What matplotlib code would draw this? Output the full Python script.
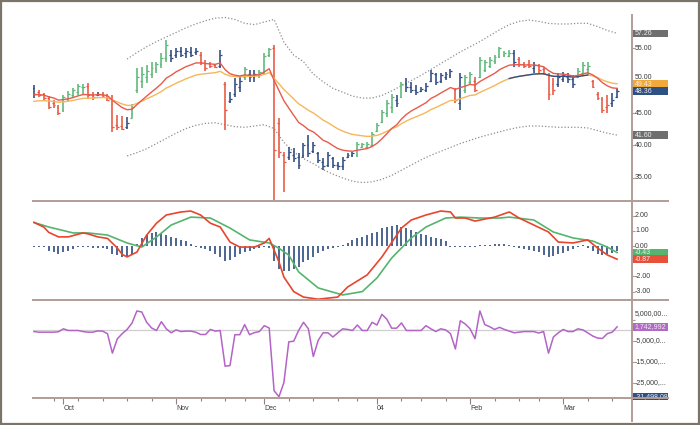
import numpy as np
import matplotlib
matplotlib.use("Agg")
import matplotlib.pyplot as plt
from matplotlib.lines import Line2D
from matplotlib.patches import Rectangle

plt.rcParams['font.family'] = ['Liberation Sans', 'DejaVu Sans']

# ---------------- data ----------------
bar_high = [49.3, 48.5, 48.1, 47.6, 47.0, 46.2, 47.8, 48.4, 48.8, 49.5,
            49.5, 49.6, 48.2, 48.2, 48.2, 48.0, 47.8, 44.7, 44.5, 44.4,
            46.4, 51.9, 52.1, 52.4, 52.8, 52.8, 54.2, 56.2, 54.7, 55.0,
            55.2, 55.0, 55.2, 55.0, 54.4, 53.2, 52.8, 52.6, 54.7, 49.8,
            48.2, 50.4, 50.5, 52.1, 51.6, 51.6, 51.6, 54.2, 55.0, 55.5,
            44.2, 39.0, 39.8, 39.6, 38.8, 40.4, 41.6, 40.5, 39.0, 38.1,
            39.0, 38.2, 37.5, 38.2, 38.8, 39.0, 40.5, 40.4, 40.5, 42.1,
            43.5, 45.5, 47.0, 47.9, 47.8, 49.8, 50.4, 49.8, 49.3, 49.0,
            49.6, 51.6, 51.2, 51.2, 51.3, 51.8, 48.8, 51.2, 50.8, 51.3,
            50.5, 53.6, 53.2, 53.6, 53.9, 55.2, 54.5, 54.7, 54.7, 53.6,
            52.8, 53.2, 52.8, 52.6, 52.1, 51.2, 50.4, 51.2, 51.3, 51.2,
            50.8, 51.9, 52.8, 52.8, 50.1, 48.2, 47.5, 47.8, 48.1, 48.8]
bar_low = [47.3, 47.5, 47.0, 45.6, 45.8, 44.7, 45.2, 46.7, 47.5, 47.8,
           47.8, 47.2, 47.0, 47.6, 47.3, 46.8, 42.1, 42.4, 42.4, 42.5,
           44.2, 48.1, 48.8, 49.6, 50.4, 51.2, 51.9, 52.8, 52.8, 53.5,
           53.6, 53.5, 53.6, 53.9, 52.4, 51.5, 51.9, 51.9, 51.9, 42.4,
           46.5, 47.5, 48.2, 50.1, 49.8, 49.8, 50.4, 50.8, 53.6, 31.0,
           38.0, 32.8, 37.8, 37.5, 36.4, 38.1, 38.2, 38.8, 37.3, 36.2,
           36.7, 36.5, 36.2, 36.2, 38.1, 38.2, 38.2, 39.6, 39.6, 39.8,
           42.1, 43.5, 44.4, 45.0, 45.9, 47.3, 48.2, 48.1, 47.8, 48.2,
           48.2, 49.8, 49.3, 49.6, 50.1, 50.4, 46.5, 45.5, 48.1, 49.3,
           48.2, 50.4, 51.3, 51.9, 52.6, 53.5, 53.6, 53.6, 52.1, 52.1,
           51.9, 51.9, 51.2, 51.2, 50.8, 47.0, 47.7, 49.0, 49.8, 49.6,
           48.9, 50.4, 50.8, 50.8, 48.8, 47.0, 45.0, 45.0, 45.9, 47.3]
bar_open = [48.9, 48.2, 47.9, 47.3, 46.5, 46.0, 45.4, 47.2, 47.8, 48.2,
            49.0, 49.2, 47.8, 47.8, 47.9, 47.7, 47.2, 43.2, 43.0, 42.8,
            44.3, 48.5, 50.0, 50.5, 51.0, 51.8, 52.5, 53.5, 54.0, 54.0,
            54.5, 54.2, 54.4, 54.4, 54.0, 52.7, 52.5, 52.4, 52.3, 49.5,
            46.8, 48.0, 49.0, 50.5, 51.0, 50.5, 50.8, 51.2, 54.0, 55.0,
            43.5, 38.5, 38.2, 38.5, 38.2, 38.5, 40.0, 39.2, 38.8, 37.5,
            37.0, 38.0, 37.0, 36.8, 38.2, 38.5, 38.5, 39.8, 39.8, 40.0,
            42.3, 43.6, 45.0, 46.0, 47.0, 47.5, 49.5, 49.0, 48.5, 48.4,
            48.6, 50.0, 51.0, 50.0, 50.6, 50.8, 48.5, 46.5, 48.5, 49.8,
            50.0, 50.6, 51.6, 52.3, 53.0, 53.7, 54.0, 53.8, 54.3, 53.3,
            52.5, 52.6, 52.0, 52.4, 51.8, 51.0, 49.5, 49.5, 50.2, 50.5,
            50.2, 50.5, 51.2, 51.8, 50.0, 48.0, 47.2, 46.0, 46.5, 47.5]
bar_close = [48.0, 47.8, 47.3, 46.0, 46.2, 45.0, 47.5, 48.0, 48.5, 49.2,
             49.0, 47.8, 47.5, 48.0, 47.6, 47.0, 42.8, 42.8, 42.6, 43.5,
             46.0, 50.5, 51.0, 51.5, 52.0, 52.5, 53.5, 55.5, 53.5, 54.5,
             54.0, 54.6, 54.0, 54.5, 52.8, 52.0, 52.2, 52.1, 54.0, 45.5,
             47.2, 49.5, 50.0, 51.8, 50.5, 51.0, 51.3, 53.8, 54.8, 39.3,
             39.0, 37.5, 39.0, 38.0, 37.0, 40.0, 38.8, 40.0, 37.8, 36.8,
             38.5, 37.0, 36.8, 37.8, 38.5, 38.8, 40.2, 40.2, 40.3, 41.8,
             43.2, 45.2, 46.5, 47.5, 46.5, 49.5, 49.0, 48.5, 48.2, 48.7,
             49.2, 51.2, 49.8, 50.8, 51.0, 51.5, 47.0, 50.5, 50.5, 51.0,
             48.6, 53.2, 52.8, 53.2, 53.6, 55.0, 54.3, 54.3, 52.8, 52.5,
             52.2, 52.3, 52.4, 51.6, 51.2, 48.0, 48.5, 50.5, 50.8, 50.2,
             49.5, 51.5, 52.4, 52.2, 49.0, 47.3, 45.5, 46.2, 47.0, 48.36]
bar_impulse = ("BRRRRRGGGG" "GRRBRRRRRB" "GGGGGGGGBB" "BBBBRRRRBR"
               "BBBGBBGGGR" "RRBBBBBBBB" "BBBBBBGGGG" "GGGGBGBBBB"
               "BBBBBBRBGG" "RGGGGGGGBR" "RRBRRRRBBB" "BGGGRRRRBB")

ema_fast_span, ema_fast_seed = 13, 47.8
ema_slow_span, ema_slow_seed = 26, 46.7
slow_blue_from, slow_blue_to = 97, 113

band_idx = list(range(19, 120, 2))
band_upper = [53.3, 54.3, 55.2, 56.0, 56.7, 57.4, 58.1, 58.7, 59.2, 59.6,
              59.7, 59.4, 58.8, 58.6, 59.0, 59.4, 55.9, 53.9, 52.9, 51.0,
              49.8, 48.8, 48.2, 47.6, 47.3, 47.3, 47.7, 48.4, 49.2, 50.0,
              50.8, 51.7, 52.6, 53.5, 54.4, 55.2, 56.0, 56.9, 57.8, 58.6,
              59.1, 59.3, 59.1, 58.8, 58.7, 58.7, 58.8, 58.8, 58.3, 57.7, 57.26]
band_lower = [38.4, 38.9, 39.5, 40.3, 41.1, 41.9, 42.6, 43.1, 43.4, 43.5,
              43.2, 42.9, 42.8, 43.0, 43.2, 42.6, 40.5, 39.0, 38.0, 37.2,
              36.3, 35.6, 35.0, 34.5, 34.3, 34.4, 34.8, 35.4, 36.2, 37.0,
              37.8, 38.5, 39.1, 39.7, 40.3, 40.8, 41.3, 41.7, 42.1, 42.5,
              42.8, 43.0, 43.0, 42.9, 42.8, 42.8, 42.8, 42.7, 42.3, 41.9, 41.60]

macd_idx = [0, 2, 3, 5, 7, 10, 11, 13, 15, 17, 18, 19, 21, 23, 25, 27, 30, 32, 34, 36,
            38, 40, 42, 45, 47, 48, 50, 51, 53, 55, 58, 62, 64, 68, 71, 75, 77, 80, 83, 85,
            86, 88, 90, 94, 97, 99, 102, 105, 107, 110, 113, 115, 117, 119]
macd_val = [1.55, 1.25, 0.9, 0.6, 0.6, 0.86, 0.8, 0.6, 0.5, -0.13, -0.55, -0.72, -0.4, 0.72,
            1.5, 2.04, 2.24, 2.3, 2.04, 1.5, 1.25, 0.26, -0.07, -0.07, 0.2, 0.5, -1.05, -2.04,
            -3.0, -3.36, -3.5, -3.36, -2.7, -1.9, -0.72, 1.18, 1.71, 2.04, 2.3, 2.24, 1.84,
            1.84, 1.64, 1.9, 2.24, 1.84, 1.38, 0.92, 0.26, 0.2, 0.4, -0.13, -0.59, -0.87]
signal_idx = [0, 3, 8, 11, 15, 19, 22, 25, 28, 32, 36, 40, 44, 48, 50, 52, 54, 58, 63, 67,
              70, 73, 77, 80, 84, 87, 91, 95, 97, 102, 106, 110, 114, 117, 119]
signal_val = [1.55, 1.25, 0.86, 0.86, 0.72, 0.2, -0.07, 0.59, 1.38, 1.9, 1.84, 1.18, 0.4,
              0.2, -0.15, -0.6, -1.7, -2.76, -3.22, -3.0, -2.1, -0.79, 0.53, 1.25, 1.84,
              1.9, 1.84, 1.84, 1.9, 1.71, 0.92, 0.53, 0.33, -0.07, -0.43]
hist_val = [-0.05, -0.05, -0.08, -0.3, -0.4, -0.5, -0.4, -0.3, -0.2, -0.06,
            -0.05, -0.06, -0.1, -0.1, -0.15, -0.2, -0.5, -0.6, -0.75, -0.75,
            -0.5, 0.15, 0.55, 0.7, 0.85, 0.95, 0.85, 0.75, 0.6, 0.5,
            0.4, 0.3, 0.1, -0.05, -0.12, -0.2, -0.3, -0.5, -0.75, -1.0,
            -0.9, -0.7, -0.5, -0.4, -0.35, -0.2, -0.1, -0.05, -0.1, -1.0,
            -1.5, -1.65, -1.65, -1.5, -1.35, -1.05, -0.9, -0.7, -0.48, -0.33,
            -0.2, -0.1, -0.05, 0.05, 0.18, 0.4, 0.55, 0.6, 0.72, 0.83,
            0.94, 1.16, 1.27, 1.3, 1.38, 1.27, 1.16, 1.05, 0.9, 0.77,
            0.72, 0.6, 0.5, 0.46, 0.33, -0.05, -0.06, -0.06, -0.05, -0.08,
            -0.05, 0.05, 0.05, 0.08, 0.15, 0.15, 0.1, 0.05, -0.05, -0.15,
            -0.2, -0.25, -0.3, -0.4, -0.6, -0.7, -0.65, -0.55, -0.45, -0.3,
            -0.2, -0.05, 0.05, -0.1, -0.3, -0.5, -0.6, -0.55, -0.45, -0.35]

flow_val = [-0.5, -0.8, -0.8, -0.8, -0.8, -0.6, 0.8, 0.0, 0.0, 0.0,
            -0.5, -0.8, -0.8, -0.2, -0.3, -1.5, -10.8, -4.0, -1.5, 0.5,
            3.5, 9.3, 8.8, 3.9, 1.2, 0.0, 4.2, 0.8, -1.1, 0.3,
            -0.5, -0.3, -0.3, -0.8, -1.9, -1.9, 0.5, -0.3, 0.0, -17.0,
            -16.7, -2.0, -2.0, 2.8, -2.0, -1.0, -0.5, 2.3, 1.2, -28.7,
            -31.5, -24.8, -5.4, -5.1, 0.0, 3.9, 0.8, -12.4, -4.7, -1.1,
            -1.1, -3.1, -1.1, 0.8, 0.5, 0.0, 2.6, 0.0, 0.0, 3.9,
            2.6, 7.7, 5.4, 1.1, 1.1, 3.6, 0.0, 0.0, 0.0, 0.0,
            2.3, 0.8, -0.5, 0.8, 0.3, -1.5, -8.8, 4.65, 3.1, 0.8,
            -3.9, 9.3, 2.8, 1.8, 0.5, 1.5, 0.5, -0.3, -1.1, -0.8,
            -0.5, -0.5, -0.5, -1.2, -0.5, -10.8, -3.1, -1.1, 0.5, -0.5,
            -0.5, 0.8, 0.3, -1.1, -2.6, -3.6, -3.8, -1.5, -0.8, 1.743]

month_idx = [6, 29, 47, 70, 89, 108]
month_labels = ['Oct', 'Nov', 'Dec', '04', 'Feb', 'Mar']
week_idx = [4, 9, 14, 19, 24, 34, 39, 43, 52, 57, 62, 66, 75, 79, 84, 94, 99, 103, 113, 118]

price_ticks = [55, 50, 45, 40, 35]
price_tick_labels = ['55.00', '50.00', '45.00', '40.00', '35.00']
macd_ticks = [2, 1, 0, -1, -2, -3]
macd_tick_labels = ['2.00', '1.00', '0.00', '', '-2.00', '-3.00']   # -1.00 is hidden behind boxes
flow_ticks = [5, -5, -15, -25]
flow_tick_labels = ['5,000,00...', '-5,000,0...', '-15,000,...', '-25,000,...']

price_boxes = [(57.26, '57.26', '#6e6e6e'), (49.43, '49.43', '#f2a93b'),
               (48.36, '48.36', '#2f5083'), (41.60, '41.60', '#6e6e6e')]
macd_boxes = [(-0.43, '-0.43', '#55b46e'), (-0.87, '-0.87', '#e8503a')]
flow_boxes = [(1.743, '1,742,992', '#b368c6'), (-31.498, '-31,498,08', '#2f5083')]

# ---------------- styling ----------------
W, H = 700, 425
L, R = 33, 632
AXC = '#b19c96'
TXT = '#3a3a3a'
col_map = {'G': '#5bb676', 'B': '#2d4b7e', 'R': '#e8553e'}

fig = plt.figure(figsize=(W / 100, H / 100), dpi=100)
fig.patch.set_facecolor('white')


def fx(px):
    return px / W


def fy(py):
    return 1 - py / H


panels = [(15, 201, (31.46, 60.08)), (202, 299, (-3.487, 2.895)), (300, 398, (-32.14, 14.52))]
axes = []
for top, bot, yl in panels:
    ax = fig.add_axes([fx(L), fy(bot), (R - L) / W, (bot - top) / H])
    ax.set_xlim(-0.2, 122.04)
    ax.set_ylim(*yl)
    for s in ax.spines.values():
        s.set_visible(False)
    ax.set_facecolor('none')
    ax.yaxis.tick_right()
    ax.tick_params(axis='y', direction='out', length=2.5, width=0.8, color=AXC,
                   labelright=False, labelleft=False)
    axes.append(ax)
ax1, ax2, ax3 = axes

x = np.arange(len(bar_close))

# ---- price panel ----
for i in x:
    c = col_map[bar_impulse[i]]
    ax1.vlines(i, bar_low[i], bar_high[i], color=c, lw=1.15, zorder=3)
    ax1.hlines(bar_open[i], i - 0.38, i, color=c, lw=0.9, zorder=3)
    ax1.hlines(bar_close[i], i, i + 0.38, color=c, lw=0.9, zorder=3)


def ema(values, span, seed):
    a = 2.0 / (span + 1)
    out, prev = [], seed
    for v in values:
        prev = prev + a * (v - prev)
        out.append(prev)
    return np.array(out)


ema_fast = ema(bar_close, ema_fast_span, ema_fast_seed)
ema_slow = ema(bar_close, ema_slow_span, ema_slow_seed)
ax1.plot(x, ema_slow, color='#f6b75a', lw=1.0, zorder=4)
seg = slice(slow_blue_from, slow_blue_to + 1)
ax1.plot(x[seg], ema_slow[seg], color='#2f5083', lw=1.0, zorder=4)
ax1.plot(x, ema_fast, color='#e85a4c', lw=1.0, zorder=5)
ax1.plot(band_idx, band_upper, color='#8e8e8e', lw=0.9, ls=(0, (1, 1.6)), zorder=2)
ax1.plot(band_idx, band_lower, color='#8e8e8e', lw=0.9, ls=(0, (1, 1.6)), zorder=2)
ax1.set_yticks(price_ticks)
ax1.set_xticks([])

# ---- MACD panel ----
ax2.vlines(x, 0, hist_val, color='#2d4b7e', lw=1.2, zorder=2)
ax2.plot(signal_idx, signal_val, color='#55b46e', lw=1.2, zorder=3)
ax2.plot(macd_idx, macd_val, color='#e8452e', lw=1.2, zorder=4)
ax2.set_yticks(macd_ticks)
ax2.set_xticks([])

# ---- flow panel ----
ax3.axhline(0, color='#cfcfcf', lw=0.9, zorder=1)
ax3.plot(x, flow_val, color='#b463c6', lw=1.1, zorder=3)
ax3.set_yticks(flow_ticks)
ax3.set_xticks(month_idx)
ax3.set_xticklabels(month_labels, ha='left', fontsize=5, color=TXT)
ax3.set_xticks(week_idx, minor=True)
ax3.tick_params(axis='x', which='major', direction='out', length=4.5, width=0.8,
                color='#8f817b', pad=0.5)
ax3.tick_params(axis='x', which='minor', direction='out', length=2.2, width=0.8,
                color='#8f817b')


# ---- right-side labels ----
def px_per_unit(ax, top, bot):
    lo, hi = ax.get_ylim()
    return (bot - top) / (hi - lo)


def right_labels(ax, ticks, labels, offsets_px=None):
    tr = ax.get_yaxis_transform()
    ppu = px_per_unit(ax, *ax._panel_px)
    for k, (t, s) in enumerate(zip(ticks, labels)):
        if not s:
            continue
        dy = 0 if offsets_px is None else offsets_px[k] / ppu
        ax.text(1.0 + 3.0 / (R - L), t + dy, s, transform=tr, fontsize=5, color=TXT,
                va='center', ha='left', clip_on=False, zorder=6)


for ax, (top, bot, yl) in zip(axes, panels):
    ax._panel_px = (top, bot)

right_labels(ax1, price_ticks, price_tick_labels, offsets_px=[0, 3.0, 0, 0, 0])
right_labels(ax2, macd_ticks, macd_tick_labels)
right_labels(ax3, flow_ticks, flow_tick_labels, offsets_px=[6.5, 0, 0, 0])


def value_boxes(ax, boxes):
    tr = ax.get_yaxis_transform()
    ppu = px_per_unit(ax, *ax._panel_px)
    h = 7.5 / ppu
    w = 36.0 / (R - L)
    for val, s, fc in boxes:
        ax.add_patch(Rectangle((1.0, val - h / 2), w, h, transform=tr, facecolor=fc,
                               edgecolor='none', clip_on=False, zorder=10))
        ax.text(1.0 + 2.5 / (R - L), val, s, transform=tr, fontsize=5, color='#eeeeee',
                va='center', ha='left', clip_on=False, zorder=11)


value_boxes(ax1, price_boxes)
value_boxes(ax2, macd_boxes)
value_boxes(ax3, flow_boxes)

for ax, (top, bot, yl) in zip(axes, panels):
    ax.set_ylim(*yl)
    ax.set_xlim(-0.2, 122.04)

# ---- separators, axis line, frame ----
for yy in (201, 299.5, 398):
    fig.add_artist(Line2D([fx(L), fx(668)], [fy(yy), fy(yy)], color=AXC, lw=1.4))
fig.add_artist(Line2D([fx(R), fx(R)], [fy(15), fy(421)], color=AXC, lw=1.4))
fig.add_artist(Rectangle((fx(1), fy(423.5)), fx(698), fy(1) - fy(423.5), fill=False,
                         edgecolor='#7b7468', lw=1.6, transform=fig.transFigure))

fig.savefig('out.png', dpi=100, facecolor='white')
